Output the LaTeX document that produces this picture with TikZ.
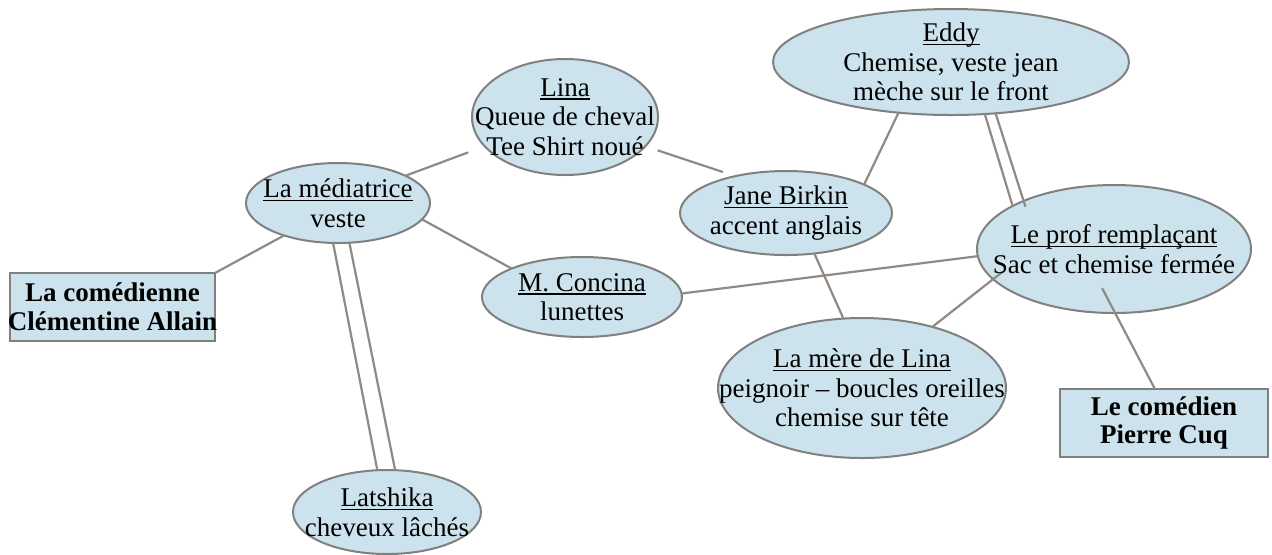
\documentclass[tikz,border=0pt]{standalone}
\usepackage{fontspec}
\setmainfont{Liberation Serif}
\usetikzlibrary{shapes.geometric}
\definecolor{lblue}{RGB}{204,227,237}
\definecolor{bordgray}{RGB}{128,128,128}
\definecolor{linkgray}{RGB}{145,137,132}
\newcommand\myul[1]{\setbox0=\hbox{#1}\rlap{\rule[-1.8pt]{\wd0}{0.7pt}}\box0}
\tikzset{
  ell/.style={ellipse, draw=bordgray, fill=lblue, line width=1pt, inner sep=0pt, outer sep=0pt},
  boxnode/.style={rectangle, draw=bordgray, fill=lblue, line width=1pt, inner sep=0pt, outer sep=0pt},
  lbl/.style={align=center, font=\fontsize{13.5}{14.8}\selectfont, inner sep=0pt},
  blbl/.style={align=center, font=\fontsize{13.5}{14.3}\selectfont\bfseries, inner sep=0pt},
  link/.style={draw=linkgray, line width=1.1pt},
}
\begin{document}
\begin{tikzpicture}[x=0.5pt,y=-0.5pt]
\useasboundingbox (0,0) rectangle (1272,554);
\fill[white] (0,0) rectangle (1272,554);
% shapes
\node[ell, minimum width=93pt, minimum height=58pt] (lina) at (565,117) {};
\node[ell, minimum width=92pt, minimum height=40pt] (med) at (338,203) {};
\node[ell, minimum width=100pt, minimum height=40pt] (conc) at (582,297) {};
\node[ell, minimum width=178pt, minimum height=53pt] (eddy) at (951,62) {};
\node[ell, minimum width=106pt, minimum height=42pt] (jane) at (786,213) {};
\node[ell, minimum width=137pt, minimum height=64pt] (prof) at (1114,249) {};
\node[ell, minimum width=144pt, minimum height=70pt] (mere) at (862,388) {};
\node[ell, minimum width=94pt, minimum height=42pt] (lat) at (387,512) {};
\node[boxnode, minimum width=102.5pt, minimum height=34pt] (com) at (112.5,307) {};
\node[boxnode, minimum width=104pt, minimum height=34pt] (cuq) at (1164,423) {};
% connectors
\draw[link, shorten >=8.7pt] (med.22) -- (lina.200);
\draw[link] (med.-11) -- (conc.158);
\draw[link] (med.211) -- (com.north east);
\draw[link] (med.-97) -- (lat.103);
\draw[link] (med.-74) -- (lat.79);
\draw[link, shorten <=6.5pt, shorten >=6.5pt] (lina.-20) -- (jane.144);
\draw[link] (conc.2) -- (prof.183);
\draw[link] (eddy.224) -- (jane.20);
\draw[link] (eddy.-57) -- (prof.157);
\draw[link, shorten >=-3pt] (eddy.-49) -- (prof.152);
\draw[link] (jane.-55) -- (mere.105);
\draw[link, shorten <=-6pt] (prof.194) -- (mere.41);
\draw[link, shorten <=-14pt] (prof.-89) -- (cuq.105);
% texts
\node[lbl] (linaT) at (lina) {\myul{Lina}\\Queue de cheval\\Tee Shirt noué};
\node[lbl] (medT) at (med) {\myul{La médiatrice}\\veste};
\node[lbl] (concT) at (conc) {\myul{M. Concina}\\lunettes};
\node[lbl] (eddyT) at (eddy) {\myul{Eddy}\\Chemise, veste jean\\mèche sur le front};
\node[lbl] (janeT) at (jane) {\myul{Jane Birkin}\\accent anglais};
\node[lbl] (profT) at (prof) {\myul{Le prof remplaçant}\\Sac et chemise fermée};
\node[lbl] (mereT) at (mere) {\myul{La mère de Lina}\\peignoir – boucles oreilles\\chemise sur tête};
\node[lbl] (latT) at (lat) {\myul{Latshika}\\cheveux lâchés};
\node[blbl] (comT) at (com) {La comédienne\\Clémentine Allain};
\node[blbl] (cuqT) at (cuq) {Le comédien\\Pierre Cuq};
\end{tikzpicture}
\end{document}
